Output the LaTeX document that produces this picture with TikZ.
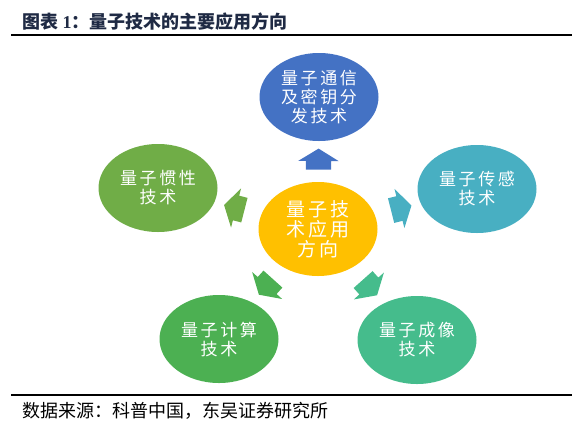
\documentclass[tikz,border=0pt]{standalone}
\usepackage{fontspec}
\setmainfont{Liberation Serif}
\newfontfamily\cjk{Noto Sans CJK SC}
\newfontfamily\cjkwide[LetterSpace=15]{Noto Sans CJK SC}
\usetikzlibrary{shapes.geometric,shapes.arrows}

\definecolor{hubgold}{HTML}{FFC000}
\definecolor{commblue}{HTML}{4472C4}
\definecolor{inertgreen}{HTML}{70AD47}
\definecolor{sensteal}{HTML}{48AFC2}
\definecolor{compgreen}{HTML}{4CB052}
\definecolor{imagteal}{HTML}{45BC8C}
\definecolor{titleink}{HTML}{1F2A44}

\begin{document}
\begin{tikzpicture}[x=1pt,y=-1pt]
\tikzset{
  bubble/.style={ellipse,minimum width=119pt,minimum height=88pt,inner sep=0pt,align=center,text=white,font=\cjkwide\fontsize{17}{19}\selectfont},
  hubbubble/.style={bubble,minimum height=94pt,font=\cjkwide\fontsize{19}{20}\selectfont},
  flowarrow/.style={single arrow,minimum height=21pt,inner xsep=0pt,inner ysep=12.5pt,single arrow head extend=7.5pt,single arrow tip angle=117,sloped,allow upside down},
  rulebar/.style={draw=black,line width=1.2pt}
}
\useasboundingbox (0,0) rectangle (572,429);
% caption and source
\node[anchor=west,inner sep=0pt,text=titleink,font=\bfseries\fontsize{18}{20}\selectfont] (n_title) at (22,22) {{\cjk\bfseries 图表} 1{\cjk\bfseries ：量子技术的主要应用方向}};
\draw[rulebar] (11,35) -- (572,35);
\draw[rulebar] (11,395) -- (572,395);
\node[anchor=west,inner sep=0pt,font=\cjk\fontsize{18}{20}\selectfont] (n_source) at (22,411) {数据来源：科普中国，东吴证券研究所};
% bubbles
\node[hubbubble,fill=hubgold] (n_hub) at (318,229) {量子技\\术应用\\方向};
\node[bubble,fill=commblue] (n_comm) at (319,97) {量子通信\\及密钥分\\发技术};
\node[bubble,fill=inertgreen] (n_inert) at (158,188) {量子惯性\\技术};
\node[bubble,fill=sensteal] (n_sens) at (477,189) {量子传感\\技术};
\node[bubble,fill=compgreen] (n_comp) at (219,339) {量子计算\\技术};
\node[bubble,fill=imagteal] (n_imag) at (417,340) {量子成像\\技术};
% block arrows
\path (n_hub.center) -- (n_comm.center) node[flowarrow,midway,fill=commblue] {};
\path (n_hub.center) -- (n_inert.center) node[flowarrow,midway,fill=inertgreen] {};
\path (n_hub.center) -- (n_sens.center) node[flowarrow,midway,fill=sensteal] {};
\path (n_hub.center) -- (n_comp.center) node[flowarrow,midway,fill=compgreen] {};
\path (n_hub.center) -- (n_imag.center) node[flowarrow,midway,fill=imagteal] {};
\end{tikzpicture}
\end{document}
